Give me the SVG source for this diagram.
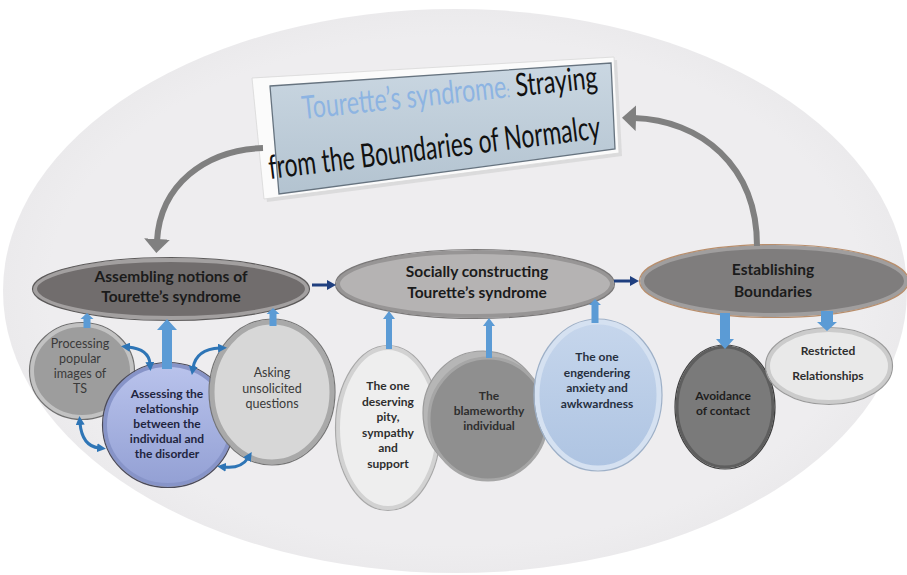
<svg xmlns="http://www.w3.org/2000/svg" width="907" height="575" viewBox="0 0 907 575">
<defs>
<style>
text{font-family:Lato,"Open Sans","Liberation Sans",sans-serif}
.main{font-size:15.5px;font-weight:700;fill:#1b1b1b;text-anchor:middle}
.sub{font-size:12px;font-weight:700;fill:#2e2e2e;text-anchor:middle}
.subr{font-size:12.5px;font-weight:400;fill:#3a3a3a;text-anchor:middle}
.blk{fill:#5b9bd5}
.gray{fill:none;stroke:#808080;stroke-width:6}
.navy{fill:none;stroke:#1f3f7f;stroke-width:3}
.dbl{fill:none;stroke:#2e75b6;stroke-width:3}
.edge{fill:none;stroke-width:1.2}
</style>
<marker id="gh" markerUnits="userSpaceOnUse" markerWidth="14" markerHeight="26" viewBox="0 0 14 26" refX="2" refY="13" orient="auto"><path d="M0,0 L14,13 L0,26 z" fill="#808080"/></marker>
<marker id="nh" markerUnits="userSpaceOnUse" markerWidth="9" markerHeight="10" viewBox="0 0 9 10" refX="1" refY="5" orient="auto"><path d="M0,0 L9,5 L0,10 z" fill="#1f3f7f"/></marker>
<marker id="bh" markerUnits="userSpaceOnUse" markerWidth="9" markerHeight="9" viewBox="0 0 9 9" refX="2" refY="4.5" orient="auto-start-reverse"><path d="M0,0 L9,4.5 L0,9 z" fill="#2e75b6"/></marker>
<linearGradient id="panel" x1="0" y1="0" x2="0" y2="1"><stop offset="0" stop-color="#cad7e2"/><stop offset="1" stop-color="#b3c3d0"/></linearGradient>
<radialGradient id="bg" cx="0.5" cy="0.5" r="0.5"><stop offset="0.9" stop-color="#eeedef"/><stop offset="1" stop-color="#ebeaec"/></radialGradient>
<linearGradient id="assess" x1="0" y1="0" x2="0" y2="1"><stop offset="0" stop-color="#b9c3ec"/><stop offset="1" stop-color="#93a0d4"/></linearGradient>
<linearGradient id="eng" x1="0" y1="0" x2="0" y2="1"><stop offset="0" stop-color="#c6d6ec"/><stop offset="1" stop-color="#aec4e2"/></linearGradient>
</defs>

<rect width="907" height="575" fill="#ffffff"/>
<ellipse cx="455" cy="291" rx="452" ry="282" fill="url(#bg)"/>

<g id="title">
<polygon points="255,81 617,60 622,156 267,202" fill="#cfcfcf" opacity="0.6"/>
<polygon points="252,78 614,57 619,153 264,199" fill="#fbfbfb" stroke="#d8d8d8" stroke-width="0.8"/>
<polygon points="270,86 611,63 615,149 279,194" fill="url(#panel)" stroke="#66737f" stroke-width="1.3"/>
<text transform="translate(303,119) rotate(-6)" font-size="32" textLength="297" lengthAdjust="spacingAndGlyphs"><tspan fill="#8db4e2">Tourette’s syndrome</tspan><tspan fill="#8db4e2" font-size="18">:</tspan><tspan fill="#111"> Straying</tspan></text>
<text transform="translate(270,179) rotate(-7)" font-size="33" fill="#111" textLength="334" lengthAdjust="spacingAndGlyphs">from the Boundaries of Normalcy</text>
</g>

<g id="n-assembling">
<ellipse cx="171" cy="289" rx="136" ry="29" fill="#716d6d" stroke="#a3a0a0" stroke-width="4"/>
<ellipse cx="171" cy="289" rx="138.5" ry="31.5" class="edge" stroke="#5c5a5a"/>
<text class="main" x="171" y="282">Assembling notions of</text>
<text class="main" x="171" y="302">Tourette’s syndrome</text>
</g>

<g id="n-socially">
<ellipse cx="475" cy="284" rx="137" ry="32" fill="#b5b3b3" stroke="#979595" stroke-width="4"/>
<ellipse cx="475" cy="284" rx="139.5" ry="34.5" class="edge" stroke="#7a7878"/>
<text class="main" x="477" y="277" font-size="16">Socially constructing</text>
<text class="main" x="477" y="298" font-size="16">Tourette’s syndrome</text>
</g>

<g id="n-establishing">
<ellipse cx="774" cy="281" rx="132" ry="34" fill="#7f7d7d" stroke="#a09e9e" stroke-width="4"/>
<ellipse cx="774" cy="281" rx="134.5" ry="36.5" class="edge" stroke="#b88e6c" stroke-width="1.6"/>
<text class="main" x="773" y="275">Establishing</text>
<text class="main" x="773" y="297">Boundaries</text>
</g>

<g id="n-processing">
<ellipse cx="82" cy="371" rx="50" ry="46" fill="#9d9d9d" stroke="#c2c2c2" stroke-width="4"/>
<ellipse cx="82" cy="371" rx="52.5" ry="48.5" class="edge" stroke="#707070"/>
<text class="subr" x="80" y="348">Processing</text>
<text class="subr" x="80" y="363">popular</text>
<text class="subr" x="80" y="378">images of</text>
<text class="subr" x="80" y="393">TS</text>
</g>

<g id="n-assessing">
<ellipse cx="168" cy="425" rx="63" ry="60" fill="url(#assess)" stroke="#8794c8" stroke-width="4"/>
<ellipse cx="168" cy="425" rx="65.5" ry="62.5" class="edge" stroke="#4a4a5a" stroke-width="1.5"/>
<text class="sub" x="167" y="398" style="fill:#1f2540">Assessing the</text>
<text class="sub" x="167" y="413" style="fill:#1f2540">relationship</text>
<text class="sub" x="167" y="428" style="fill:#1f2540">between the</text>
<text class="sub" x="167" y="443" style="fill:#1f2540">individual and</text>
<text class="sub" x="167" y="458" style="fill:#1f2540">the disorder</text>
</g>

<g id="n-asking">
<ellipse cx="272" cy="392" rx="60" ry="70" fill="#d7d7d7" stroke="#a9a9a9" stroke-width="5"/>
<ellipse cx="272" cy="392" rx="63" ry="73" class="edge" stroke="#757575"/>
<text class="subr" x="272" y="377">Asking</text>
<text class="subr" x="272" y="393">unsolicited</text>
<text class="subr" x="272" y="408">questions</text>
</g>

<g id="n-pity">
<ellipse cx="388" cy="428" rx="50" ry="80" fill="#eeeeee" stroke="#d2d2d2" stroke-width="4"/>
<ellipse cx="388" cy="428" rx="52.5" ry="82.5" class="edge" stroke="#a8a8a8"/>
<text class="sub" x="388" y="390">The one</text>
<text class="sub" x="388" y="405.5">deserving</text>
<text class="sub" x="388" y="421">pity,</text>
<text class="sub" x="388" y="436.5">sympathy</text>
<text class="sub" x="388" y="452">and</text>
<text class="sub" x="388" y="467.5">support</text>
</g>

<g id="n-blame">
<ellipse cx="483" cy="413" rx="60" ry="62" fill="#b6b6b6" stroke="#9a9a9a" stroke-width="1.2"/>
<ellipse cx="488" cy="419" rx="59" ry="61" fill="#8f8f8f" stroke="#a6a6a6" stroke-width="3"/>
<text class="sub" x="489" y="400">The</text>
<text class="sub" x="489" y="415">blameworthy</text>
<text class="sub" x="489" y="430">individual</text>
</g>

<g id="n-engender">
<ellipse cx="598" cy="395" rx="61" ry="73" fill="url(#eng)" stroke="#d5e1f1" stroke-width="5"/>
<ellipse cx="598" cy="395" rx="64" ry="76" class="edge" stroke="#9db0c8"/>
<text class="sub" x="597" y="361" style="fill:#27303f">The one</text>
<text class="sub" x="597" y="376.5" style="fill:#27303f">engendering</text>
<text class="sub" x="597" y="392" style="fill:#27303f">anxiety and</text>
<text class="sub" x="597" y="407.5" style="fill:#27303f">awkwardness</text>
</g>

<g id="n-avoidance">
<ellipse cx="725" cy="407" rx="48" ry="60" fill="#7a7a7a" stroke="#5e5e5e" stroke-width="3"/>
<ellipse cx="725" cy="407" rx="50" ry="62" class="edge" stroke="#3f3f3f"/>
<text class="sub" x="723" y="400" style="fill:#1e1e1e">Avoidance</text>
<text class="sub" x="723" y="415" style="fill:#1e1e1e">of contact</text>
</g>

<g id="n-restricted">
<ellipse cx="829" cy="366" rx="61" ry="36" fill="#e9e9e9" stroke="#cbcbcb" stroke-width="4"/>
<ellipse cx="829" cy="366" rx="63.5" ry="38.5" class="edge" stroke="#9a9a9a"/>
<text class="sub" x="828" y="355">Restricted</text>
<text class="sub" x="828" y="380">Relationships</text>
</g>

<g id="connectors">
<path class="gray" d="M263,148 C205,150 160,185 157,241" marker-end="url(#gh)"/>
<path class="gray" d="M757,246 C757,165 700,120 634,118" marker-end="url(#gh)"/>
<path class="navy" d="M312,285 L328,285" marker-end="url(#nh)"/>
<path class="navy" d="M614,281 L631,281" marker-end="url(#nh)"/>
<polygon class="blk" points="83.5,328 83.5,319 80.5,319 87,313 93.5,319 90.5,319 90.5,328"/>
<polygon class="blk" points="162,369 162,330 157,330 167,319 177,330 172,330 172,369"/>
<polygon class="blk" points="269.5,326 269.5,314 266.5,314 273,308 279.5,314 276.5,314 276.5,326"/>
<polygon class="blk" points="386,349 386,319 383,319 389,311 395,319 392,319 392,349"/>
<polygon class="blk" points="486,358 486,326 483,326 489,318 495,326 492,326 492,358"/>
<polygon class="blk" points="591.5,323 591.5,305 589,305 595,299 601,305 598.5,305 598.5,323"/>
<polygon class="blk" points="720,313 720,339 716,339 725,349 734,339 730,339 730,313"/>
<polygon class="blk" points="821,311 821,322 817,322 827,331 837,322 833,322 833,311"/>
<path class="dbl" d="M128,347 Q149,349 150,364" marker-start="url(#bh)" marker-end="url(#bh)"/>
<path class="dbl" d="M193,368 Q196,349 220,348" marker-start="url(#bh)" marker-end="url(#bh)"/>
<path class="dbl" d="M80,423 Q82,446 99,448" marker-start="url(#bh)" marker-end="url(#bh)"/>
<path class="dbl" d="M224,467 Q241,469 248,458" marker-start="url(#bh)" marker-end="url(#bh)"/>
</g>
</svg>
